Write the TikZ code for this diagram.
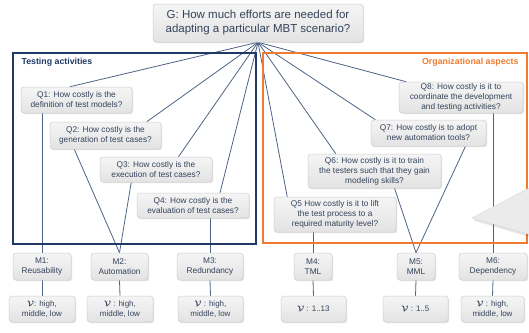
\documentclass[tikz,border=0pt]{standalone}
\usepackage{fontspec}
\setmainfont{Liberation Sans}
\usetikzlibrary{calc,shadows}
\pgfdeclarelayer{wires}
\pgfsetlayers{wires,main}
\definecolor{txt}{HTML}{34435A}
\definecolor{wire}{HTML}{4E6485}
\definecolor{navy}{HTML}{1F3A64}
\definecolor{orng}{HTML}{EE7B30}
\definecolor{boxedge}{HTML}{CFCFCF}
\newcommand{\valsym}{{\boldmath$\mathcal{V}$}}
\tikzset{
  qbox/.style={rectangle, rounded corners=3pt, draw=boxedge, line width=0.5pt,
    top color=white!96!black, bottom color=white!89!black,
    drop shadow={shadow xshift=1.2pt, shadow yshift=-1.2pt, opacity=0.22},
    align=center, inner sep=0pt, text=txt, font=\fontsize{8.3}{10}\selectfont},
  gbox/.style={qbox, font=\fontsize{11.5}{14}\selectfont},
  vbox/.style={qbox, font=\fontsize{8}{10.5}\selectfont},
  wireline/.style={draw=wire, line width=0.8pt},
  frame/.style={line width=1.4pt},
}
\begin{document}
\begin{tikzpicture}[x=1pt,y=-1pt]
\useasboundingbox (0,0) rectangle (529,332);
\clip (0,0) rectangle (529,332);

% group frames
\draw[frame, navy] (13,53) rectangle (256,244);
\node[anchor=west, text=navy, font=\fontsize{8.8}{10}\selectfont\bfseries] (tlab) at (18,62) {Testing activities};
\draw[frame, orng] (263,53) rectangle (527,243);
\node[anchor=east, text=orng, font=\fontsize{8.8}{10}\selectfont\bfseries] (olab) at (522,62) {Organizational aspects};

% goal
\node[gbox, minimum width=210pt, minimum height=38pt] (G) at (258,23)
  {G: How much efforts are needed for\\adapting a particular MBT scenario?};

% questions
\node[qbox, minimum width=111pt, minimum height=26pt] (Q1) at (76.5,100) {Q1: How costly is the\\definition of test models?};
\node[qbox, minimum width=111pt, minimum height=27pt] (Q2) at (105.5,135.5) {Q2: How costly is the\\generation of test cases?};
\node[qbox, minimum width=112pt, minimum height=25pt] (Q3) at (156,169.5) {Q3: How costly is the\\execution of test cases?};
\node[qbox, minimum width=112pt, minimum height=25pt] (Q4) at (193,205.5) {Q4: How costly is the\\evaluation of test cases?};
\node[qbox, minimum width=122pt, minimum height=35pt] (Q5) at (335,214.5) {Q5 How costly is it to lift\\the test process to a\\required maturity level?};
\node[qbox, minimum width=133pt, minimum height=34pt] (Q6) at (374.5,171) {Q6: How costly is it to train\\the testers such that they gain\\modeling skills?};
\node[qbox, minimum width=115pt, minimum height=26pt] (Q7) at (428.5,133) {Q7: How costly is to adopt\\new automation tools?};
\node[qbox, minimum width=124pt, minimum height=31pt] (Q8) at (461,97.5) {Q8: How costly is it to\\coordinate the development\\and testing activities?};

% metrics
\node[qbox, minimum width=58pt, minimum height=27pt] (M1) at (42,266.5) {M1:\\Reusability};
\node[qbox, minimum width=57pt, minimum height=27pt] (M2) at (119.5,266.5) {M2:\\Automation};
\node[qbox, minimum width=66pt, minimum height=27pt] (M3) at (210,266.5) {M3:\\Redundancy};
\node[qbox, minimum width=38pt, minimum height=27pt] (M4) at (313,266.5) {M4:\\TML};
\node[qbox, minimum width=38pt, minimum height=27pt] (M5) at (416,266.5) {M5:\\MML};
\node[qbox, minimum width=68pt, minimum height=27pt] (M6) at (493,266.5) {M6:\\Dependency};

% value ranges
\node[vbox, minimum width=66pt, minimum height=26pt] (V1) at (42,309) {\valsym: high,\\middle, low};
\node[vbox, minimum width=66pt, minimum height=26pt] (V2) at (120,309) {\valsym\ : high,\\middle, low};
\node[vbox, minimum width=65pt, minimum height=26pt] (V3) at (210.5,309) {\valsym\ : high,\\middle, low};
\node[vbox, minimum width=65pt, minimum height=26pt] (V4) at (313.5,309) {\valsym\ : 1..13};
\node[vbox, minimum width=65pt, minimum height=26pt] (V5) at (415.5,309) {\valsym\ : 1..5};
\node[vbox, minimum width=63pt, minimum height=26pt] (V6) at (492.5,309) {\valsym\ : high,\\middle, low};

% attachment points on question boxes
\coordinate (q1t) at ($(Q1.north west)!0.44!(Q1.north east)$);
\coordinate (q2t) at ($(Q2.north west)!0.87!(Q2.north east)$);
\coordinate (q3t) at ($(Q3.north west)!0.70!(Q3.north east)$);
\coordinate (q4t) at ($(Q4.north west)!0.74!(Q4.north east)$);
\coordinate (q5t) at ($(Q5.north west)!0.11!(Q5.north east)$);
\coordinate (q6t) at ($(Q6.north west)!0.21!(Q6.north east)$);
\coordinate (q7t) at ($(Q7.north west)!0.04!(Q7.north east)$);
\coordinate (q8t) at ($(Q8.north west)!0.06!(Q8.north east)$);
\coordinate (q2b) at ($(Q2.south west)!0.22!(Q2.south east)$);
\coordinate (q3b) at ($(Q3.south west)!0.28!(Q3.south east)$);
\coordinate (q6b) at ($(Q6.south west)!0.65!(Q6.south east)$);
\coordinate (q7b) at ($(Q7.south west)!0.82!(Q7.south east)$);

\begin{pgfonlayer}{wires}
\fill[white] (0,0) rectangle (529,332);
% goal to questions
\foreach \t in {q1t,q2t,q3t,q4t,q5t,q6t,q7t,q8t}
  \draw[wireline] (G.south) -- (\t);
% questions to metrics
\draw[wireline] (M1.north |- Q1.south) -- (M1.north);
\draw[wireline] (q2b) -- (M2.north);
\draw[wireline] (q3b) -- (M2.north);
\draw[wireline] (M3.north |- Q4.south) -- (M3.north);
\draw[wireline] (M4.north |- Q5.south) -- (M4.north);
\draw[wireline] (q6b) -- (M5.north);
\draw[wireline] (q7b) -- (M5.north);
\draw[wireline] (M6.north |- Q8.south) -- (M6.north);
% metrics to value ranges
\foreach \m/\v in {M1/V1,M2/V2,M3/V3,M4/V4,M5/V5,M6/V6}
  \draw[wireline] (\m.south) -- (\v.north);
\end{pgfonlayer}

% callout pointer entering from the right edge
\fill[black, opacity=0.10] (473.5,220.5) -- (535,188) -- (535,238.5) -- cycle;
\filldraw[fill=white!92!black, draw=white!84!black, line width=0.4pt] (472,218) -- (535,185) -- (535,236) -- cycle;
\end{tikzpicture}
\end{document}
